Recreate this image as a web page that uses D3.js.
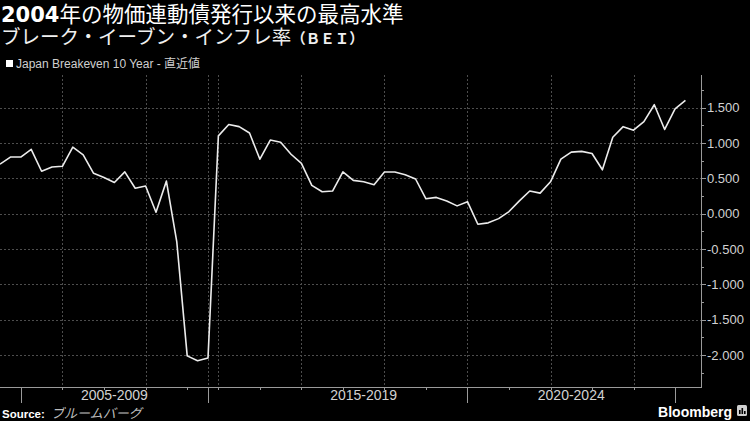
<!DOCTYPE html>
<html><head><meta charset="utf-8">
<script src="https://cdn.jsdelivr.net/npm/d3@7"></script>
<style>html,body{margin:0;padding:0;background:#000;} svg{display:block;}</style>
</head><body>
<svg id="chart" width="750" height="421"></svg>
<script>
// ---- data ----
const quarters = [
  "2004Q3","2004Q4",
  "2005Q1","2005Q2","2005Q3","2005Q4",
  "2006Q1","2006Q2","2006Q3","2006Q4",
  "2007Q1","2007Q2","2007Q3","2007Q4",
  "2008Q1","2008Q2","2008Q3","2008Q4",
  "2009Q1","2009Q2","2009Q3",
  "2014Q1","2014Q2","2014Q3","2014Q4",
  "2015Q1","2015Q2","2015Q3","2015Q4",
  "2016Q1","2016Q2","2016Q3","2016Q4",
  "2017Q1","2017Q2","2017Q3","2017Q4",
  "2018Q1","2018Q2","2018Q3","2018Q4",
  "2019Q1","2019Q2","2019Q3","2019Q4",
  "2020Q1","2020Q2","2020Q3","2020Q4",
  "2021Q1","2021Q2","2021Q3","2021Q4",
  "2022Q1","2022Q2","2022Q3","2022Q4",
  "2023Q1","2023Q2","2023Q3","2023Q4",
  "2024Q1","2024Q2","2024Q3","2024Q4",
  "2025Q1","2025Q2"
];
const bei = [
  0.70, 0.80,
  0.80, 0.91, 0.60, 0.66,
  0.67, 0.94, 0.83, 0.57,
  0.51, 0.44, 0.59, 0.36,
  0.39, 0.02, 0.46, -0.40,
  -2.01, -2.08, -2.04,
  1.10, 1.26, 1.23, 1.14,
  0.77, 1.04, 1.01, 0.84,
  0.71, 0.40, 0.31, 0.32,
  0.59, 0.47, 0.45, 0.41,
  0.59, 0.59, 0.55, 0.49,
  0.21, 0.23, 0.18, 0.11,
  0.17, -0.15, -0.13, -0.07,
  0.03, 0.18, 0.32, 0.29,
  0.45, 0.77, 0.87, 0.88,
  0.85, 0.62, 1.08, 1.23,
  1.18, 1.30, 1.54, 1.19,
  1.48, 1.60
];
const yTicks = [-2, -1.5, -1, -0.5, 0, 0.5, 1, 1.5];
const yTickLabels = ["-2.000","-1.500","-1.000","-0.500","0.000","0.500","1.000","1.500"];
const yMinorTicks = [-2.25, -1.75, -1.25, -0.75, -0.25, 0.25, 0.75, 1.25, 1.75];
const gridYears = [2006, 2008, 2009.5, 2014, 2016, 2018, 2020, 2022, 2024];
const yearTicks = [2006, 2007, 2008, 2009, 2014, 2015, 2016, 2017, 2018, 2019, 2021, 2022, 2023, 2024];
const periodBounds = [2005, 2009.5, 2020, 2025];
const periodLabels = ["2005-2009", "2015-2019", "2020-2024"];
const periodStart = [2005, 2015, 2020];
const periodEnd = [2009.5, 2020, 2025];

const titleText = "2004年の物価連動債発行以来の最高水準";
const subtitleText = "ブレーク・イーブン・インフレ率";
const subtitleTag = "（ＢＥＩ）";
const legendLabel = "Japan Breakeven 10 Year - 直近値";

(function () {
  const W = 750, H = 421;
  const pLeft = 0, pRight = 701, pTop = 75, pBottom = 387;
  const svg = d3.select("#chart");
  const CJK = "'Noto Sans CJK JP', 'Noto Sans CJK SC', sans-serif";
  const LAT = "'Liberation Sans', Arial, sans-serif";

  svg.append("rect").attr("width", W).attr("height", H).attr("fill", "#000");

  const toYear = q => +q.slice(0, 4) + (+q.slice(5) - 1) / 4;
  const data = quarters.map((q, i) => ({ t: toYear(q), v: bei[i] }));

  // broken time axis: gap between 2009.5 and 2013.75 collapsed
  const x = d3.scaleLinear()
    .domain([2004.5, 2009.5, 2013.75, 2025.625])
    .range([pLeft, 208, 208, pRight]);
  const y = d3.scaleLinear().domain([-2.45, 1.96]).range([pBottom, pTop]);
  const px = v => Math.round(v) + 0.5;

  // grid
  const grid = svg.append("g");
  grid.selectAll("line.h").data(yTicks).join("line").attr("class", "h")
    .attr("x1", pLeft).attr("x2", pRight)
    .attr("y1", d => px(y(d))).attr("y2", d => px(y(d)))
    .attr("stroke", "#4d4d4d").attr("stroke-width", 1).attr("stroke-dasharray", "2,2");
  grid.selectAll("line.v").data(gridYears).join("line").attr("class", "v")
    .attr("x1", d => px(x(d))).attr("x2", d => px(x(d)))
    .attr("y1", pTop).attr("y2", pBottom)
    .attr("stroke", "#4d4d4d").attr("stroke-width", 1).attr("stroke-dasharray", "2,2");

  // line
  const line = d3.line().x(d => x(d.t)).y(d => y(d.v));
  svg.append("path").datum(data)
    .attr("d", line).attr("fill", "none")
    .attr("stroke", "#ececec").attr("stroke-width", 1.6)
    .attr("stroke-linejoin", "round");

  // right axis
  const ax = svg.append("g");
  ax.append("line").attr("x1", pRight + 0.5).attr("x2", pRight + 0.5)
    .attr("y1", pTop).attr("y2", pBottom).attr("stroke", "#9a9a9a");
  ax.selectAll("line.maj").data(yTicks).join("line").attr("class", "maj")
    .attr("x1", pRight).attr("x2", pRight + 5)
    .attr("y1", d => px(y(d))).attr("y2", d => px(y(d)))
    .attr("stroke", "#9a9a9a");
  ax.selectAll("line.min").data(yMinorTicks).join("line").attr("class", "min")
    .attr("x1", pRight).attr("x2", pRight + 3)
    .attr("y1", d => px(y(d))).attr("y2", d => px(y(d)))
    .attr("stroke", "#9a9a9a");
  ax.selectAll("text").data(yTicks).join("text")
    .attr("x", pRight + 6).attr("y", d => y(d)).attr("dy", "0.36em")
    .attr("fill", "#d2d2d2").attr("font-family", LAT).attr("font-size", 13)
    .text((d, i) => yTickLabels[i]);

  // bottom axis
  const bx = svg.append("g");
  bx.append("line").attr("x1", pLeft).attr("x2", pRight + 1)
    .attr("y1", pBottom + 0.5).attr("y2", pBottom + 0.5).attr("stroke", "#9a9a9a");
  bx.selectAll("line.long").data(periodBounds).join("line").attr("class", "long")
    .attr("x1", d => px(x(d))).attr("x2", d => px(x(d)))
    .attr("y1", pBottom).attr("y2", pBottom + 16).attr("stroke", "#9a9a9a");
  bx.selectAll("line.short").data(yearTicks).join("line").attr("class", "short")
    .attr("x1", d => px(x(d))).attr("x2", d => px(x(d)))
    .attr("y1", pBottom).attr("y2", pBottom + 3).attr("stroke", "#9a9a9a");
  bx.selectAll("text").data(periodLabels).join("text")
    .attr("x", (d, i) => (x(periodStart[i]) + x(periodEnd[i])) / 2)
    .attr("y", 399.5).attr("text-anchor", "middle")
    .attr("fill", "#d2d2d2").attr("font-family", LAT).attr("font-size", 14)
    .text(d => d);

  // titles
  const t = svg.append("text").attr("x", 1).attr("y", 22).attr("fill", "#fff");
  t.append("tspan").attr("font-family", "'DejaVu Sans', sans-serif").attr("font-weight", "bold")
    .attr("font-size", 21).text(titleText.slice(0, 4));
  t.append("tspan").attr("font-family", CJK).attr("font-weight", 400)
    .attr("font-size", 21.5).text(titleText.slice(4));

  const st = svg.append("text").attr("x", 1).attr("y", 43.5).attr("fill", "#f0f0f0");
  st.append("tspan").attr("font-family", CJK).attr("font-size", 19.5).attr("font-weight", 400).text(subtitleText);
  st.append("tspan").attr("font-family", CJK).attr("font-size", 14.5).attr("font-weight", "bold").text(subtitleTag);

  // legend
  svg.append("rect").attr("x", 6).attr("y", 60).attr("width", 7).attr("height", 7).attr("fill", "#fff");
  svg.append("text").attr("x", 16).attr("y", 67.5)
    .attr("fill", "#cfcfcf").attr("font-family", LAT + ", " + CJK).attr("font-size", 12)
    .text(legendLabel);

  // footer
  const src = svg.append("text").attr("x", 2).attr("y", 417.5);
  src.append("tspan").attr("font-family", LAT).attr("font-weight", "bold").attr("font-size", 11.5)
    .attr("fill", "#fff").text("Source: ");
  src.append("tspan").attr("font-family", CJK).attr("font-size", 13).attr("font-style", "italic")
    .attr("dx", 3).attr("fill", "#bdbdbd").text("ブルームバーグ");

  svg.append("text").attr("x", 732).attr("y", 417).attr("text-anchor", "end")
    .attr("fill", "#fff").attr("font-family", LAT).attr("font-weight", "bold").attr("font-size", 14)
    .text("Bloomberg");
  const logo = svg.append("g").attr("transform", "translate(737,405)");
  logo.append("rect").attr("width", 10).attr("height", 11).attr("rx", 1.5).attr("fill", "#cfcfcf");
  logo.selectAll("rect.b").data([[2, 5], [4.5, 3], [7, 6]]).join("rect").attr("class", "b")
    .attr("x", d => d[0]).attr("y", d => d[1]).attr("width", 1.6).attr("height", d => 9 - d[1])
    .attr("fill", "#000");
})();
</script>
</body></html>
